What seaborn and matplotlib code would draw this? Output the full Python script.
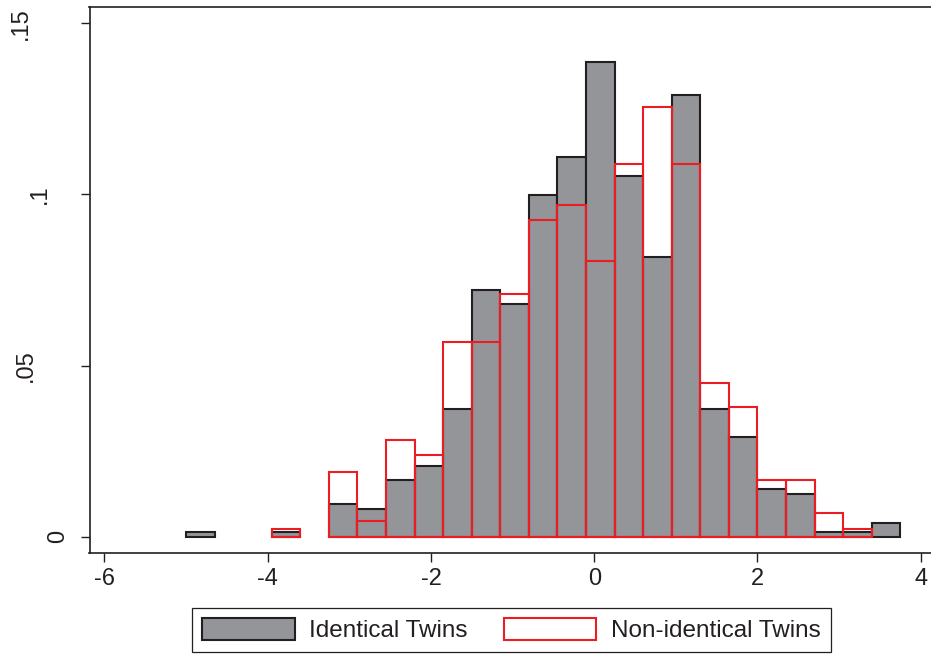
import numpy as np
import pandas as pd
import matplotlib
matplotlib.use("Agg")
import matplotlib.pyplot as plt
from matplotlib.patches import Patch
from matplotlib.transforms import ScaledTranslation
import seaborn as sns

# ---------------- data ----------------
bin_start = -5.0
bin_width = 0.35
n_bins = 25

identical_density = [0.0015, 0.0, 0.0, 0.0013, 0.0, 0.0097, 0.0082, 0.0167,
                     0.0208, 0.0374, 0.0721, 0.0681, 0.0999, 0.1110, 0.1386,
                     0.1054, 0.0817, 0.1290, 0.0374, 0.0291, 0.0139, 0.0126,
                     0.0014, 0.0014, 0.0041]
nonidentical_density = [0.0, 0.0, 0.0, 0.0023, 0.0, 0.0189, 0.0045, 0.0283,
                        0.0238, 0.0568, 0.0568, 0.0710, 0.0924, 0.0970, 0.0805,
                        0.1090, 0.1254, 0.1090, 0.0448, 0.0378, 0.0167, 0.0167,
                        0.0069, 0.0023, 0.0]

x_ticks = [-6, -4, -2, 0, 2, 4]
x_tick_labels = ["-6", "-4", "-2", "0", "2", "4"]
y_ticks = [0, 0.05, 0.1, 0.15]
y_tick_labels = ["0", ".05", ".1", ".15"]
legend_labels = ["Identical Twins", "Non-identical Twins"]

# ---------------- style ----------------
GRAY = "#939598"
BLACK = "#231F20"
RED = "#ED1C24"

sns.set_theme(style="ticks")
plt.rcParams["font.family"] = ["Liberation Sans", "DejaVu Sans"]
plt.rcParams["axes.unicode_minus"] = False

edges = [bin_start + bin_width * i for i in range(n_bins + 1)]
centers = [(edges[i] + edges[i + 1]) / 2 for i in range(n_bins)]

fig = plt.figure(figsize=(9.31, 6.54), dpi=100)
ax = fig.add_axes([89.5 / 931, (654 - 552.7) / 654,
                   (931 - 89.5) / 931, (552.7 - 7.3) / 654])


def styled_hist(weights, face, edge):
    n0 = len(ax.patches)
    df = pd.DataFrame({"score": centers, "density": weights})
    sns.histplot(data=df, x="score", weights="density", bins=edges,
                 stat="count", ax=ax, color=edge, linewidth=1.5)
    for p in list(ax.patches[n0:]):
        if p.get_height() <= 0:
            p.remove()
            continue
        p.set_facecolor(face)
        p.set_edgecolor(edge)
        p.set_linewidth(1.5)
        p.set_alpha(1)


styled_hist(identical_density, GRAY, BLACK)
styled_hist(nonidentical_density, "none", RED)

ax.set_xlabel("")
ax.set_ylabel("")
ax.set_xlim((89.5 - 594.2) / 81.63, (931 - 594.2) / 81.63)
ax.set_ylim(-0.00467, 0.15466)

for side in ["left", "bottom", "top"]:
    ax.spines[side].set_visible(True)
    ax.spines[side].set_color(BLACK)
    ax.spines[side].set_linewidth(1.2)
ax.spines["right"].set_visible(False)

ax.tick_params(axis="both", direction="out", length=6.5, width=1.0,
               color=BLACK, labelcolor=BLACK, labelsize=17, pad=4.5,
               left=True, bottom=True, top=False, right=False)

ax.set_xticks(x_ticks, x_tick_labels)
ax.set_yticks(y_ticks, y_tick_labels)

# Stata-style rotated y labels (centre depends on label length)
y_label_offsets_px = {"0": -31.5, ".05": -64.0, ".1": -49.5, ".15": -69.0}
for tick, lab in zip(ax.yaxis.get_major_ticks(len(y_ticks)), y_tick_labels):
    t = tick.label1
    t.set_rotation(90)
    t.set_ha("center")
    t.set_va("center")
    t.set_transform(ax.get_yaxis_transform() +
                    ScaledTranslation(y_label_offsets_px[lab] / 100, 0,
                                      fig.dpi_scale_trans))

handles = [Patch(facecolor=GRAY, edgecolor=BLACK, linewidth=1.5),
           Patch(facecolor="white", edgecolor=RED, linewidth=1.5)]
leg = fig.legend(handles=handles, labels=legend_labels, loc="lower center",
                 bbox_to_anchor=(511.5 / 931, 2 / 654), ncol=2, fontsize=17.5,
                 frameon=True, fancybox=False, framealpha=1, edgecolor=BLACK,
                 borderaxespad=0, borderpad=0.4, handlelength=3.8,
                 handleheight=1.0, handletextpad=0.6, columnspacing=1.5)
leg.get_frame().set_linewidth(0.9)
for txt in leg.get_texts():
    txt.set_color(BLACK)

fig.savefig("out.png", dpi=100)
